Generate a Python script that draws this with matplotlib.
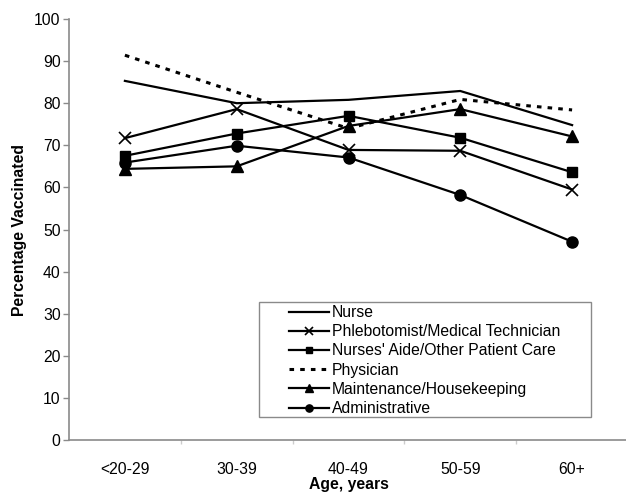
import matplotlib
matplotlib.use("Agg")
import matplotlib.pyplot as plt
from matplotlib.patches import Rectangle
from matplotlib.ticker import FixedLocator

plt.rcParams['font.family'] = ['Liberation Sans', 'DejaVu Sans']

categories = ['<20-29', '30-39', '40-49', '50-59', '60+']
nurse = [85.3, 80.0, 80.8, 82.9, 74.8]
phlebotomist = [71.7, 78.6, 68.9, 68.7, 59.5]
nurses_aide = [67.5, 72.8, 77.0, 71.8, 63.6]
physician = [91.4, 82.6, 74.0, 80.9, 78.4]
maintenance = [64.4, 65.0, 74.6, 78.6, 72.1]
administrative = [65.9, 69.9, 67.1, 58.2, 47.1]

FS = 11.3

fig = plt.figure(figsize=(6.26, 4.97), dpi=100)
ax = fig.add_axes([69/626, 57/497, 559/626, 421/497])

x = list(range(len(categories)))
lw = 1.6
ax.plot(x, nurse, color='black', lw=lw, label='Nurse')
ax.plot(x, phlebotomist, color='black', lw=lw, marker='x', ms=8, mew=1.2,
        label='Phlebotomist/Medical Technician')
ax.plot(x, nurses_aide, color='black', lw=lw, marker='s', ms=7.5,
        label="Nurses' Aide/Other Patient Care")
ax.plot(x, physician, color='black', lw=2.2, ls=(0, (1.5, 2.0)), label='Physician')
ax.plot(x, maintenance, color='black', lw=lw, marker='^', ms=8,
        label='Maintenance/Housekeeping')
ax.plot(x, administrative, color='black', lw=lw, marker='o', ms=8,
        label='Administrative')

ax.set_xlim(-0.5, 4.5)
ax.set_ylim(0, 100)
ax.set_yticks(range(0, 101, 10))
ax.set_xticks(x)
ax.set_xticklabels(categories)
ax.xaxis.set_minor_locator(FixedLocator([0.5, 1.5, 2.5, 3.5]))

for s in ['top', 'right']:
    ax.spines[s].set_visible(False)
for s in ['left', 'bottom']:
    ax.spines[s].set_color('#8a8a8a')
    ax.spines[s].set_linewidth(1.2)

ax.tick_params(axis='y', length=4, width=1, color='#8a8a8a', pad=2, labelsize=FS)
ax.tick_params(axis='x', which='major', length=0, pad=16, labelsize=FS)
ax.tick_params(axis='x', which='minor', length=3, width=1, color='#cccccc')

ax.set_ylabel('Percentage Vaccinated', fontsize=FS, fontweight='bold', labelpad=5)
ax.set_xlabel('Age, years', fontsize=FS, fontweight='bold', labelpad=0)

# legend frame
x0, x1 = (259-69)/559, (591-69)/559
y0, y1 = (440-417)/421, (440-302)/421
ax.add_patch(Rectangle((x0, y0), x1-x0, y1-y0, transform=ax.transAxes,
                       fill=True, facecolor='white', edgecolor='#8a8a8a', lw=1.0,
                       clip_on=False, zorder=5))
leg = ax.legend(loc='upper left', bbox_to_anchor=((289-69)/559, (440-305)/421),
                frameon=False, borderpad=0, borderaxespad=0, handlelength=2.55,
                handletextpad=0.2, labelspacing=0.27, fontsize=FS, markerscale=0.65)
leg.set_zorder(6)

fig.savefig('out.png', dpi=100)
